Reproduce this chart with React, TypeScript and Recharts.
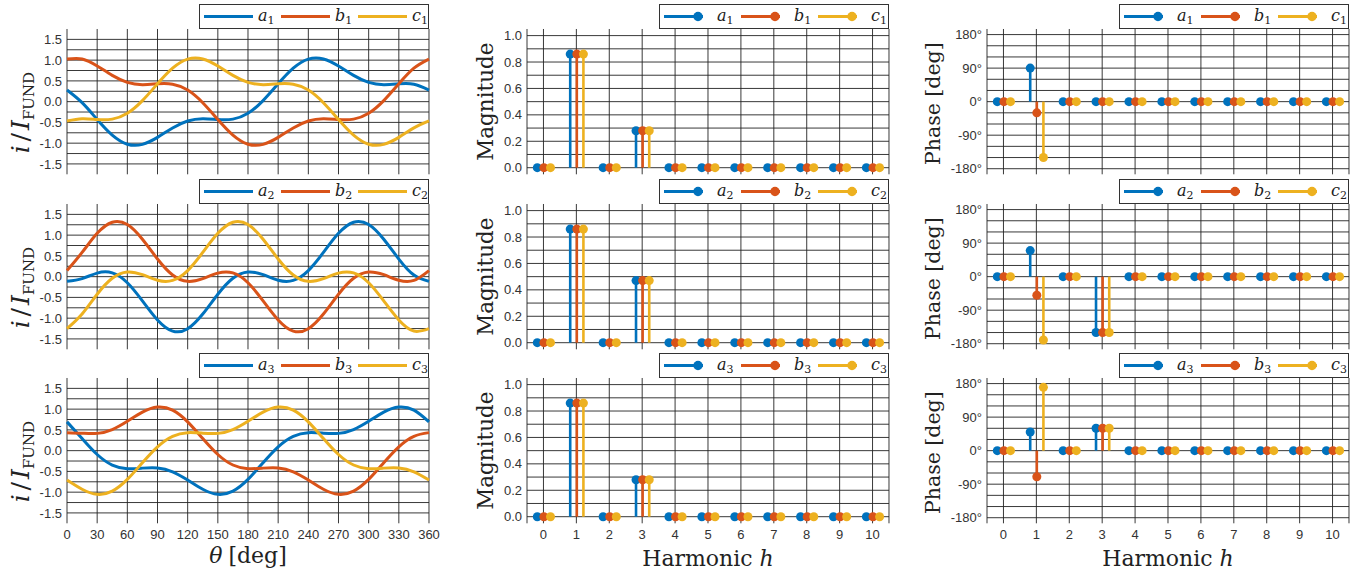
import React from 'react'
import { ComposedChart, Line, Bar, XAxis, YAxis, CartesianGrid, ReferenceArea } from 'recharts'

const COLORS = ['#0072BD', '#D95319', '#EDB120']
const SERIF = '"DejaVu Serif", serif'
const SANS = '"Liberation Sans", Arial, sans-serif'

// waveforms, sampled every 15 deg
const theta = [0, 15, 30, 45, 60, 75, 90, 105, 120, 135, 150, 165, 180, 195, 210, 225, 240, 255, 270, 285, 300, 315, 330, 345, 360]

const a1 = [0.28, -0.025, -0.43, -0.806, -1.025, -1.029, -0.86, -0.633, -0.465, -0.41, -0.43, -0.421, -0.28, 0.025, 0.43, 0.806, 1.025, 1.029, 0.86, 0.633, 0.465, 0.41, 0.43, 0.421, 0.28]
const b1 = [1.025, 1.029, 0.86, 0.633, 0.465, 0.41, 0.43, 0.421, 0.28, -0.025, -0.43, -0.806, -1.025, -1.029, -0.86, -0.633, -0.465, -0.41, -0.43, -0.421, -0.28, 0.025, 0.43, 0.806, 1.025]
const c1 = [-0.465, -0.41, -0.43, -0.421, -0.28, 0.025, 0.43, 0.806, 1.025, 1.029, 0.86, 0.633, 0.465, 0.41, 0.43, 0.421, 0.28, -0.025, -0.43, -0.806, -1.025, -1.029, -0.86, -0.633, -0.465]

const a2 = [-0.113, -0.047, 0.086, 0.091, -0.146, -0.583, -1.043, -1.311, -1.254, -0.901, -0.424, -0.039, 0.113, 0.047, -0.086, -0.091, 0.146, 0.583, 1.043, 1.311, 1.254, 0.901, 0.424, 0.039, -0.113]
const b2 = [0.146, 0.583, 1.043, 1.311, 1.254, 0.901, 0.424, 0.039, -0.113, -0.047, 0.086, 0.091, -0.146, -0.583, -1.043, -1.311, -1.254, -0.901, -0.424, -0.039, 0.113, 0.047, -0.086, -0.091, 0.146]
const c2 = [-1.254, -0.901, -0.424, -0.039, 0.113, 0.047, -0.086, -0.091, 0.146, 0.583, 1.043, 1.311, 1.254, 0.901, 0.424, 0.039, -0.113, -0.047, 0.086, 0.091, -0.146, -0.583, -1.043, -1.311, -1.254]

const a3 = [0.693, 0.291, -0.093, -0.346, -0.434, -0.421, -0.416, -0.509, -0.707, -0.929, -1.051, -0.975, -0.693, -0.291, 0.093, 0.346, 0.434, 0.421, 0.416, 0.509, 0.707, 0.929, 1.051, 0.975, 0.693]
const b3 = [0.434, 0.421, 0.416, 0.509, 0.707, 0.929, 1.051, 0.975, 0.693, 0.291, -0.093, -0.346, -0.434, -0.421, -0.416, -0.509, -0.707, -0.929, -1.051, -0.975, -0.693, -0.291, 0.093, 0.346, 0.434]
const c3 = [-0.707, -0.929, -1.051, -0.975, -0.693, -0.291, 0.093, 0.346, 0.434, 0.421, 0.416, 0.509, 0.707, 0.929, 1.051, 0.975, 0.693, 0.291, -0.093, -0.346, -0.434, -0.421, -0.416, -0.509, -0.707]

// harmonic spectra
const harmonic = [0, 1, 2, 3, 4, 5, 6, 7, 8, 9, 10]
const mag1 = [0, 0.86, 0, 0.28, 0, 0, 0, 0, 0, 0, 0]
const mag2 = [0, 0.86, 0, 0.47, 0, 0, 0, 0, 0, 0, 0]
const mag3 = [0, 0.86, 0, 0.28, 0, 0, 0, 0, 0, 0, 0]

const phaseA1 = [0, 90, 0, 0, 0, 0, 0, 0, 0, 0, 0]
const phaseB1 = [0, -30, 0, 0, 0, 0, 0, 0, 0, 0, 0]
const phaseC1 = [0, -150, 0, 0, 0, 0, 0, 0, 0, 0, 0]
const phaseA2 = [0, 70, 0, -150, 0, 0, 0, 0, 0, 0, 0]
const phaseB2 = [0, -50, 0, -150, 0, 0, 0, 0, 0, 0, 0]
const phaseC2 = [0, -170, 0, -150, 0, 0, 0, 0, 0, 0, 0]
const phaseA3 = [0, 50, 0, 60, 0, 0, 0, 0, 0, 0, 0]
const phaseB3 = [0, -70, 0, 60, 0, 0, 0, 0, 0, 0, 0]
const phaseC3 = [0, 170, 0, 60, 0, 0, 0, 0, 0, 0, 0]

// ticks
const thetaTicks = [0, 30, 60, 90, 120, 150, 180, 210, 240, 270, 300, 330, 360]
const waveTicks = [-1.5, -1, -0.5, 0, 0.5, 1, 1.5]
const waveGrid = [-1.5, -1.25, -1, -0.75, -0.5, -0.25, 0, 0.25, 0.5, 0.75, 1, 1.25, 1.5]
const magTicks = [0, 0.2, 0.4, 0.6, 0.8, 1]
const magGrid = [0, 0.1, 0.2, 0.3, 0.4, 0.5, 0.6, 0.7, 0.8, 0.9, 1]
const phaseTicks = [-180, -90, 0, 90, 180]
const phaseGrid = [-180, -150, -120, -90, -60, -30, 0, 30, 60, 90, 120, 150, 180]

const waves = [[a1, b1, c1], [a2, b2, c2], [a3, b3, c3]].map(([a, b, c]) =>
  theta.map((t, i) => ({ theta: t, a: a[i], b: b[i], c: c[i] }))
)
const mags = [mag1, mag2, mag3].map((m) => harmonic.map((h, i) => ({ h, a: m[i], b: m[i], c: m[i] })))
const phases = [
  [phaseA1, phaseB1, phaseC1],
  [phaseA2, phaseB2, phaseC2],
  [phaseA3, phaseB3, phaseC3],
].map(([a, b, c]) => harmonic.map((h, i) => ({ h, a: a[i], b: b[i], c: c[i] })))

const KEYS = ['a', 'b', 'c']

// layout
const PLOT_W = 362
const PLOT_H = 145.3
const AXIS_W = 70
const TOP = 30
const RIGHT = 12
const colX = [66.5, 527.3, 987.3]
const rowY = [28.7, 203.7, 378.3]

type Kind = 'wave' | 'mag' | 'phase'

const tickStyle = { fill: '#333', fontSize: 13, fontFamily: SANS }
const noTick = () => <g />

const stemShape = (color: string) => (p: any) => {
  const cx = p.x + p.width / 2
  return (
    <g>
      <line x1={cx} x2={cx} y1={p.y + p.height} y2={p.y} stroke={color} strokeWidth={2.6} />
      <circle cx={cx} cy={p.y} r={4.5} fill={color} />
    </g>
  )
}

const yLabel = (kind: Kind) => (props: any) => {
  const vb = props.viewBox
  const px = vb.x + vb.width
  const cy = vb.y + vb.height / 2
  if (kind === 'wave') {
    const x = px - 38
    const y = cy + 11
    return (
      <text x={x} y={y} transform={`rotate(-90 ${x} ${y})`} textAnchor="middle" fontFamily={SERIF} fontSize={25} fill="#222">
        <tspan fontStyle="italic">i</tspan>
        <tspan dx={4}>/</tspan>
        <tspan dx={3} fontStyle="italic">I</tspan>
        <tspan fontSize={15} dy={5}>FUND</tspan>
      </text>
    )
  }
  const x = kind === 'mag' ? px - 34 : px - 47
  const y = kind === 'mag' ? cy : cy + 2
  return (
    <text x={x} y={y} transform={`rotate(-90 ${x} ${y})`} textAnchor="middle" fontFamily={SERIF} fontSize={kind === 'mag' ? 21.5 : 20.5} fill="#222">
      {kind === 'mag' ? 'Magnitude' : 'Phase [deg]'}
    </text>
  )
}

const xLabel = (kind: Kind) => (props: any) => {
  const vb = props.viewBox
  const x = vb.x + vb.width / 2
  if (kind === 'wave') {
    return (
      <text x={x} y={vb.y + 40} textAnchor="middle" fontFamily={SERIF} fontSize={22} fill="#222">
        <tspan fontStyle="italic">θ</tspan>
        <tspan dx={6}>[deg]</tspan>
      </text>
    )
  }
  return (
    <text x={x} y={vb.y + 42.5} textAnchor="middle" fontFamily={SERIF} fontSize={22} fill="#222">
      Harmonic <tspan fontStyle="italic">h</tspan>
    </text>
  )
}

function LegendBox({ col, row }: { col: number; row: number }) {
  const stem = col > 0
  const right = colX[col] + PLOT_W
  return (
    <div
      style={{
        position: 'absolute',
        left: right - 230,
        top: rowY[row] - 25,
        width: 230,
        height: 25,
        boxSizing: 'border-box',
        border: '1px solid #333',
        background: '#fff',
      }}
    >
      <svg width={228} height={23} style={{ display: 'block' }}>
        {KEYS.map((k, i) => {
          const x0 = 4 + i * 77
          return (
            <g key={k}>
              <line x1={x0} x2={x0 + (stem ? 39 : 49)} y1={11.5} y2={11.5} stroke={COLORS[i]} strokeWidth={3} />
              {stem && <circle cx={x0 + 34} cy={11.5} r={4.7} fill={COLORS[i]} />}
              <text x={x0 + (stem ? 53 : 54)} y={16} fontFamily={SERIF} fontSize={16} fill="#222">
                <tspan fontStyle="italic">{k}</tspan>
                <tspan fontSize={11} dy={3}>{row + 1}</tspan>
              </text>
            </g>
          )
        })}
      </svg>
    </div>
  )
}

function Panel({ kind, row }: { kind: Kind; row: number }) {
  const col = kind === 'wave' ? 0 : kind === 'mag' ? 1 : 2
  const bottom = row === 2
  const xH = bottom ? 56 : 1
  const data = kind === 'wave' ? waves[row] : kind === 'mag' ? mags[row] : phases[row]
  const cfg =
    kind === 'wave'
      ? { domain: [-1.75, 1.75], ticks: waveTicks, grid: waveGrid, fmt: (v: number) => v.toFixed(1) }
      : kind === 'mag'
      ? { domain: [-0.05, 1.05], ticks: magTicks, grid: magGrid, fmt: (v: number) => v.toFixed(1) }
      : { domain: [-195, 195], ticks: phaseTicks, grid: phaseGrid, fmt: (v: number) => `${v}°` }

  return (
    <div style={{ position: 'absolute', left: colX[col] - AXIS_W, top: rowY[row] - TOP }}>
      <ComposedChart
        width={AXIS_W + PLOT_W + RIGHT}
        height={TOP + PLOT_H + xH}
        data={data}
        margin={{ top: TOP, right: RIGHT, left: 0, bottom: 0 }}
        barGap={0}
      >
        <CartesianGrid horizontalValues={cfg.grid} stroke="#222" strokeOpacity={0.9} />
        {kind === 'wave' ? (
          <XAxis
            dataKey="theta"
            type="number"
            domain={[0, 360]}
            ticks={thetaTicks}
            interval={0}
            height={xH}
            tick={bottom ? tickStyle : noTick}
            tickLine={false}
            axisLine={false}
            tickSize={0}
            tickMargin={6}
            label={bottom ? xLabel(kind) : undefined}
          />
        ) : (
          <XAxis
            dataKey="h"
            type="category"
            interval={0}
            height={xH}
            tick={bottom ? tickStyle : noTick}
            tickLine={false}
            axisLine={false}
            tickSize={0}
            tickMargin={6}
            label={bottom ? xLabel(kind) : undefined}
          />
        )}
        <YAxis
          type="number"
          domain={cfg.domain}
          ticks={cfg.ticks}
          interval={0}
          width={AXIS_W}
          tick={tickStyle}
          tickFormatter={cfg.fmt}
          tickLine={false}
          axisLine={false}
          tickSize={0}
          tickMargin={5}
          label={yLabel(kind)}
        />
        <ReferenceArea fill="none" stroke="#222" strokeWidth={1} />
        {kind === 'wave'
          ? KEYS.map((k, i) => (
              <Line
                key={k}
                type="natural"
                dataKey={k}
                stroke={COLORS[i]}
                strokeWidth={3}
                dot={false}
                activeDot={false}
                isAnimationActive={false}
              />
            ))
          : KEYS.map((k, i) => (
              <Bar key={k} dataKey={k} barSize={6.6} shape={stemShape(COLORS[i])} activeBar={false} isAnimationActive={false} />
            ))}
      </ComposedChart>
    </div>
  )
}

export default function App() {
  const kinds: Kind[] = ['wave', 'mag', 'phase']
  return (
    <div style={{ position: 'absolute', left: 0, top: 0, width: 1364, height: 578, background: '#fff', overflow: 'hidden' }}>
      {[0, 1, 2].map((row) => kinds.map((kind) => <Panel key={`${kind}-${row}`} kind={kind} row={row} />))}
      {[0, 1, 2].map((row) => [0, 1, 2].map((col) => <LegendBox key={`l-${col}-${row}`} col={col} row={row} />))}
    </div>
  )
}
